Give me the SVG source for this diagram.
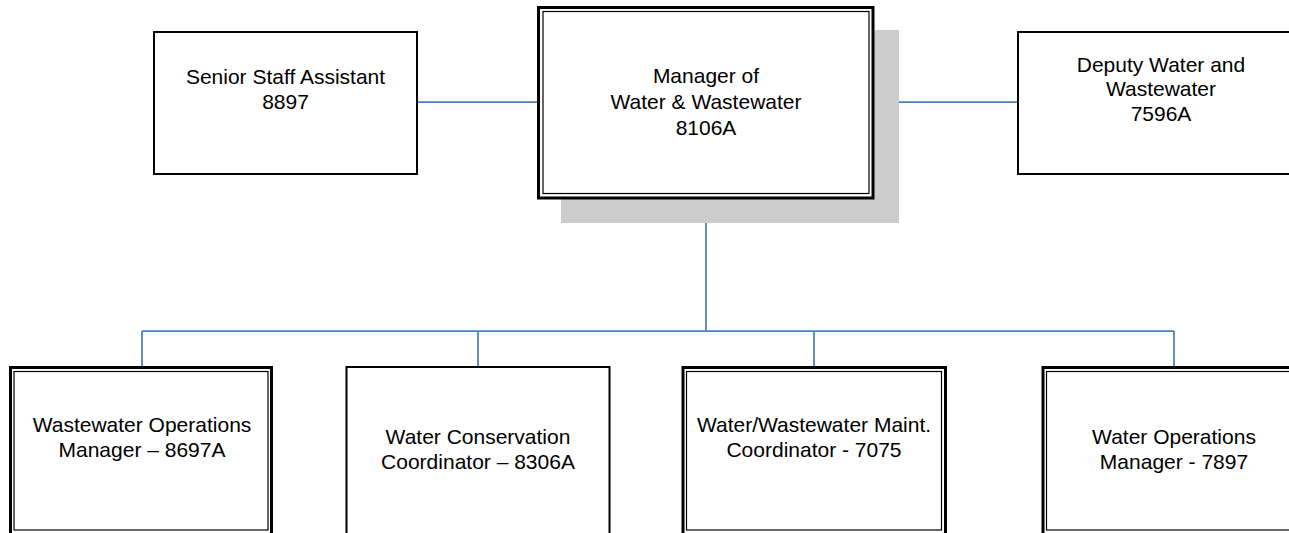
<svg xmlns="http://www.w3.org/2000/svg" width="1289" height="533" viewBox="0 0 1289 533">
<style>
.bg{fill:#ffffff}
.single{fill:#ffffff;stroke:#000000;stroke-width:2}
.outer{fill:#ffffff;stroke:#000000;stroke-width:3}
.inner{fill:none;stroke:#000000;stroke-width:1.2}
.shadow{fill:#cccccc}
.conn{fill:none;stroke:#4a7ebb;stroke-width:1.75}
text{font-family:"Liberation Sans",Arial,sans-serif;font-size:21px;fill:#000000;text-anchor:middle}
</style>
<rect class="bg" x="0" y="0" width="1289" height="533"/>
<g id="connectors">
<line class="conn" x1="418" y1="102" x2="538" y2="102"/>
<line class="conn" x1="873" y1="102" x2="1018" y2="102"/>
<line class="conn" x1="706" y1="198" x2="706" y2="331"/>
<line class="conn" x1="142" y1="331" x2="1174" y2="331"/>
<line class="conn" x1="142" y1="331" x2="142" y2="367"/>
<line class="conn" x1="478" y1="331" x2="478" y2="367"/>
<line class="conn" x1="814" y1="331" x2="814" y2="367"/>
<line class="conn" x1="1174" y1="331" x2="1174" y2="367"/>
</g>
<g id="manager">
<rect class="shadow" x="561" y="30" width="338" height="193"/>
<rect class="outer" x="538.5" y="7.5" width="334.5" height="190.5"/>
<rect class="inner" x="543" y="11.5" width="326" height="182"/>
<text x="706" y="83">Manager of</text>
<text x="706" y="109">Water &amp; Wastewater</text>
<text x="706" y="135">8106A</text>
</g>
<g id="senior-staff-assistant">
<rect class="single" x="154" y="32" width="263" height="142"/>
<text x="285.5" y="84">Senior Staff Assistant</text>
<text x="285.5" y="109">8897</text>
</g>
<g id="deputy">
<rect class="single" x="1018" y="32" width="287" height="142"/>
<text x="1161" y="72">Deputy Water and</text>
<text x="1161" y="96">Wastewater</text>
<text x="1161" y="121">7596A</text>
</g>
<g id="wastewater-ops">
<rect class="outer" x="10.5" y="367.5" width="261" height="167"/>
<rect class="inner" x="14" y="371.5" width="254" height="158.5"/>
<text x="142" y="432">Wastewater Operations</text>
<text x="142" y="457">Manager – 8697A</text>
</g>
<g id="water-conservation">
<rect class="single" x="346.5" y="367" width="263" height="175"/>
<text x="478" y="444">Water Conservation</text>
<text x="478" y="469">Coordinator – 8306A</text>
</g>
<g id="maint-coordinator">
<rect class="outer" x="683" y="367.5" width="262.5" height="167"/>
<rect class="inner" x="686.5" y="371.5" width="255" height="158.5"/>
<text x="814" y="432">Water/Wastewater Maint.</text>
<text x="814" y="457">Coordinator - 7075</text>
</g>
<g id="water-ops">
<rect class="outer" x="1043" y="367.5" width="265" height="167"/>
<rect class="inner" x="1046.5" y="371.5" width="258" height="158.5"/>
<text x="1174" y="444">Water Operations</text>
<text x="1174" y="469">Manager - 7897</text>
</g>
</svg>
